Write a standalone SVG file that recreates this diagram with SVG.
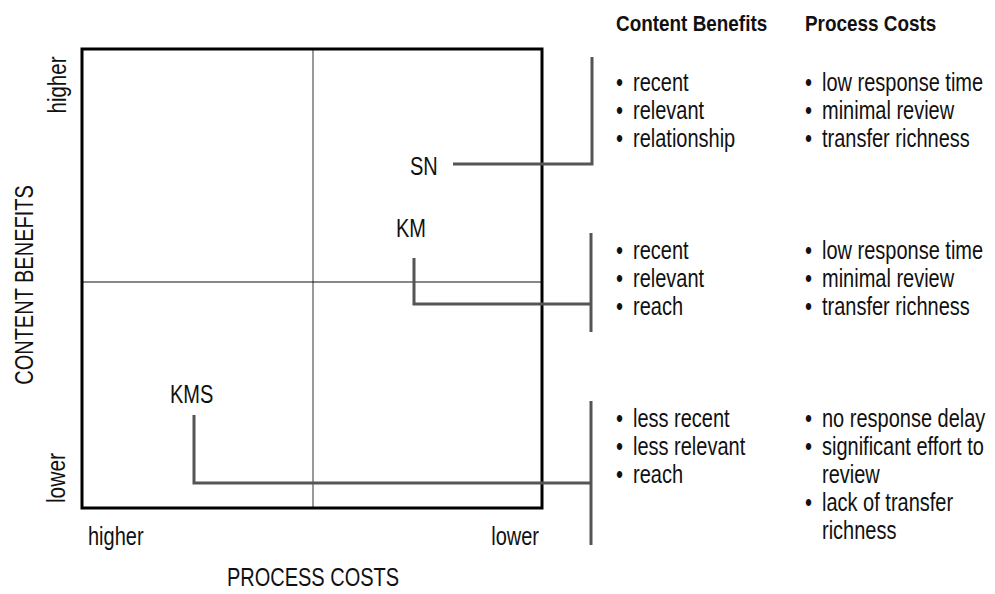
<svg xmlns="http://www.w3.org/2000/svg" width="995" height="594" viewBox="0 0 995 594">
<style>
text{font-family:"Liberation Sans",Arial,Helvetica,sans-serif;font-size:25px;fill:#111}
.h{font-weight:bold;font-size:22px}
.conn{fill:none;stroke:#555;stroke-width:3}
</style>
<rect width="995" height="594" fill="#fff"/>
<g id="matrix">
<line x1="313" y1="49" x2="313" y2="507" stroke="#777" stroke-width="1.5"/>
<line x1="82" y1="282" x2="542" y2="282" stroke="#111" stroke-width="1.2"/>
<rect x="82" y="49" width="460" height="459" fill="none" stroke="#000" stroke-width="3"/>
</g>
<g id="axes">
<g transform="translate(66,85) rotate(-90) scale(0.82,1)"><text x="0" y="0" text-anchor="middle">higher</text></g>
<g transform="translate(65,478) rotate(-90) scale(0.84,1)"><text x="0" y="0" text-anchor="middle">lower</text></g>
<g transform="translate(33,285) rotate(-90) scale(0.8,1)"><text x="0" y="0" text-anchor="middle">CONTENT BENEFITS</text></g>
<g transform="translate(88,0) scale(0.8,1)"><text x="0" y="545">higher</text></g>
<g transform="translate(539,0) scale(0.8,1)"><text x="0" y="545" text-anchor="end">lower</text></g>
<g transform="translate(313,0) scale(0.8,1)"><text x="0" y="586" text-anchor="middle">PROCESS COSTS</text></g>
</g>
<g id="connectors">
<polyline class="conn" points="453,164 592,164 592,57"/>
<polyline class="conn" points="414,258 414,304 591,304"/>
<line class="conn" x1="591" y1="233" x2="591" y2="332"/>
<polyline class="conn" points="194,415 194,483 591,483"/>
<line class="conn" x1="591" y1="401" x2="591" y2="545"/>
</g>
<g id="SN" transform="translate(410,0) scale(0.8,1)"><text x="0" y="175">SN</text></g>
<g id="KM" transform="translate(396,0) scale(0.8,1)"><text x="0" y="237">KM</text></g>
<g id="KMS" transform="translate(170,0) scale(0.8,1)"><text x="0" y="403">KMS</text></g>
<g id="headers">
<g transform="translate(616,0) scale(0.86,1)"><text class="h" x="0" y="31">Content Benefits</text></g>
<g transform="translate(805,0) scale(0.86,1)"><text class="h" x="0" y="31">Process Costs</text></g>
</g>
<g id="bullets">
<g transform="translate(616,0) scale(0.8,1)">
<text x="0" y="91">•</text><text x="0" y="119">•</text><text x="0" y="147">•</text>
<text x="0" y="259">•</text><text x="0" y="287">•</text><text x="0" y="315">•</text>
<text x="0" y="427">•</text><text x="0" y="455">•</text><text x="0" y="483">•</text>
</g>
<g transform="translate(805,0) scale(0.8,1)">
<text x="0" y="91">•</text><text x="0" y="119">•</text><text x="0" y="147">•</text>
<text x="0" y="259">•</text><text x="0" y="287">•</text><text x="0" y="315">•</text>
<text x="0" y="427">•</text><text x="0" y="455">•</text><text x="0" y="511">•</text>
</g>
</g>
<g id="SN-list">
<g transform="translate(633,0) scale(0.8,1)">
<text x="0" y="91">recent</text><text x="0" y="119">relevant</text><text x="0" y="147">relationship</text>
</g>
<g transform="translate(822,0) scale(0.8,1)">
<text x="0" y="91">low response time</text><text x="0" y="119">minimal review</text><text x="0" y="147">transfer richness</text>
</g>
</g>
<g id="KM-list">
<g transform="translate(633,0) scale(0.8,1)">
<text x="0" y="259">recent</text><text x="0" y="287">relevant</text><text x="0" y="315">reach</text>
</g>
<g transform="translate(822,0) scale(0.8,1)">
<text x="0" y="259">low response time</text><text x="0" y="287">minimal review</text><text x="0" y="315">transfer richness</text>
</g>
</g>
<g id="KMS-list">
<g transform="translate(633,0) scale(0.8,1)">
<text x="0" y="427">less recent</text><text x="0" y="455">less relevant</text><text x="0" y="483">reach</text>
</g>
<g transform="translate(822,0) scale(0.8,1)">
<text x="0" y="427">no response delay</text><text x="0" y="455">significant effort to</text><text x="0" y="483">review</text>
<text x="0" y="511">lack of transfer</text><text x="0" y="539">richness</text>
</g>
</g>
</svg>
